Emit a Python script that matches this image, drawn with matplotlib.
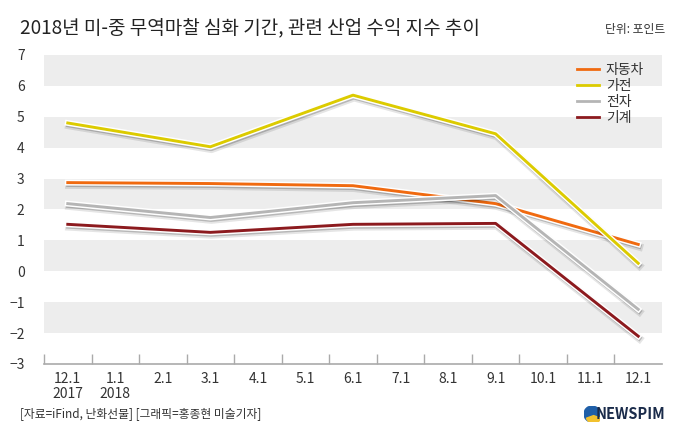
import numpy as np
import matplotlib
matplotlib.use("Agg")
import matplotlib.pyplot as plt
import matplotlib.patheffects as pe
from matplotlib.patches import Circle, Wedge

plt.rcParams['font.family'] = ['Noto Sans CJK KR', 'DejaVu Sans']

# data
months = ["12.1\n2017", "1.1\n2018", "2.1", "3.1", "4.1", "5.1", "6.1",
          "7.1", "8.1", "9.1", "10.1", "11.1", "12.1"]
obs_idx = [0, 3, 6, 9, 12]
auto = [2.87, 2.84, 2.77, 2.19, 0.87]
appliance = [4.8, 4.03, 5.7, 4.45, 0.26]
electronics = [2.19, 1.74, 2.22, 2.45, -1.23]
machinery = [1.52, 1.26, 1.52, 1.55, -2.1]

names = ["자동차", "가전", "전자", "기계"]
colors = ["#F06A10", "#DCCB00", "#B5B5B5", "#8C1A1E"]
series = [auto, appliance, electronics, machinery]

fig = plt.figure(figsize=(6.8, 4.42), dpi=100)
ax = fig.add_axes([44/680, 1-364/442, 618/680, 309/442])

# grey bands
for lo in [6, 4, 2, 0, -2]:
    ax.axhspan(lo, lo+1, color="#EDEDED", lw=0, zorder=0)

fx = [pe.SimpleLineShadow(offset=(0.8, -1.8), shadow_color="k", alpha=0.1, linewidth=5.5),
      pe.SimpleLineShadow(offset=(0.6, -1.4), shadow_color="k", alpha=0.2, linewidth=3.5),
      pe.Stroke(linewidth=4.2, foreground="white"),
      pe.Normal()]

handles = []
for vals, nm, c in zip(series, names, colors):
    ax.plot(obs_idx, vals, color=c, lw=2.1, zorder=3, path_effects=fx)
    h, = ax.plot([], [], color=c, lw=2, label=nm)
    handles.append(h)

ax.set_xlim(-0.5, 12.5)
ax.set_ylim(-3, 7)
ax.set_yticks(range(-3, 8))
ax.tick_params(axis="y", length=0, labelsize=10, labelcolor="#333333", pad=14)
ax.set_xticks(range(13))
ax.set_xticklabels(months, fontsize=10, color="#333333", linespacing=1.1)
ax.tick_params(axis="x", length=0, pad=6)
ax.set_xticks(np.arange(-0.5, 12.0, 1), minor=True)
ax.tick_params(axis="x", which="minor", direction="in", length=7, color="#AAAAAA", width=1)

for s in ["top", "right", "left"]:
    ax.spines[s].set_visible(False)
ax.spines["bottom"].set_color("#AAAAAA")
ax.spines["bottom"].set_linewidth(1.2)

leg = ax.legend(handles=handles, loc="upper left", bbox_to_anchor=(0.862, 0.975),
                frameon=False, fontsize=10, handlelength=1.6, handletextpad=0.5,
                labelspacing=0.15, borderpad=0, borderaxespad=0)
for t in leg.get_texts():
    t.set_color("#333333")

fig.text(20/680, 1-28/442, "2018년 미-중 무역마찰 심화 기간, 관련 산업 수익 지수 추이",
         fontsize=13.7, color="#222222", va="center", ha="left")
fig.text(665/680, 1-30/442, "단위: 포인트", fontsize=8.5, color="#333333", va="center", ha="right")
fig.text(20/680, 1-414/442, "[자료=iFind, 난화선물] [그래픽=홍종현 미술기자]",
         fontsize=8.5, color="#333333", va="center", ha="left")

# logo
fig.text(665/680, 1-414/442, "NEWSPIM", fontsize=10.5, fontweight="bold",
         color="#1A2B4A", va="center", ha="right")
lx, ly, r = 592/680, 1-414/442, 8
cax = fig.add_axes([lx - r/680, ly - r/442, 2*r/680, 2*r/442])
cax.set_xlim(-1, 1); cax.set_ylim(-1, 1); cax.axis("off"); cax.set_aspect("equal")
cax.add_patch(Circle((0, 0), 1, color="#1F5FA8"))
cax.add_patch(Wedge((0.2, -0.2), 0.95, 200, 340, color="#F2C12E"))

fig.savefig("out.png", dpi=100)
